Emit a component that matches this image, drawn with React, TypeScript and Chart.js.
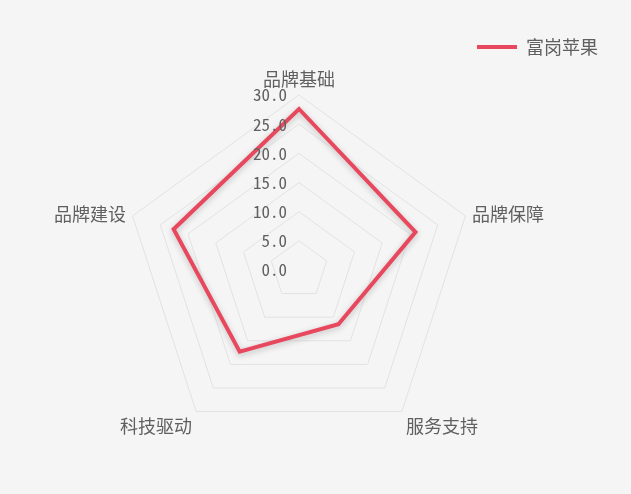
import { useEffect, useRef } from 'react';
import { Chart, registerables } from 'chart.js';

Chart.register(...registerables);

const categories = ['品牌基础', '品牌保障', '服务支持', '科技驱动', '品牌建设'];
const seriesName = '富岗苹果';
const seriesValues = [27.6, 21, 11.5, 17.3, 22.6];
const scaleMin = 0;
const scaleMax = 30;
const scaleStep = 5;

const CJK = '"Noto Sans CJK SC", "Noto Sans", sans-serif';
const MONO = '"Noto Sans Mono CJK SC", "Noto Sans CJK SC", monospace';
const TEXT = '#606060';
const LINE = '#e8485d';

const shadowPlugin = {
  id: 'lineShadow',
  beforeDatasetDraw(chart: any) {
    const ctx = chart.ctx;
    ctx.save();
    ctx.shadowColor = 'rgba(0,0,0,0.22)';
    ctx.shadowBlur = 6;
    ctx.shadowOffsetY = 2;
  },
  afterDatasetDraw(chart: any) {
    chart.ctx.restore();
  },
};

const labelPlugin = {
  id: 'radarLabels',
  afterDraw(chart: any) {
    const scale = chart.scales.r;
    const ctx = chart.ctx;
    ctx.save();
    ctx.fillStyle = TEXT;
    ctx.font = `17px ${MONO}`;
    ctx.textAlign = 'right';
    ctx.textBaseline = 'middle';
    scale.ticks.forEach((t: any) => {
      const d = scale.getDistanceFromCenterForValue(t.value);
      ctx.fillText(Number(t.value).toFixed(1), scale.xCenter - 12, scale.yCenter - d);
    });
    ctx.font = `18px ${CJK}`;
    (chart.data.labels as string[]).forEach((lab, i) => {
      const p = scale.getPointPosition(i, scale.drawingArea + 7);
      const a = scale.getIndexAngle(i) - Math.PI / 2;
      const c = Math.cos(a);
      const s = Math.sin(a);
      ctx.textAlign = Math.abs(c) < 0.01 ? 'center' : c > 0 ? 'left' : 'right';
      let y = p.y;
      if (s < -0.9) y -= 9;
      else if (s > 0.5) y += 9;
      ctx.fillText(lab, p.x, y);
    });
    ctx.restore();
  },
};

export default function App() {
  const ref = useRef<HTMLCanvasElement>(null);

  useEffect(() => {
    if (!ref.current) return;
    const chart = new Chart(ref.current, {
      type: 'radar',
      data: {
        labels: categories,
        datasets: [
          {
            label: seriesName,
            data: seriesValues,
            borderColor: LINE,
            backgroundColor: 'transparent',
            borderWidth: 4,
            borderCapStyle: 'round',
            fill: false,
            pointRadius: 0,
            pointHoverRadius: 0,
          } as any,
        ],
      },
      options: {
        responsive: true,
        maintainAspectRatio: false,
        animation: false,
        layout: { padding: { left: 0, right: 21, top: 26, bottom: 20 } },
        plugins: {
          tooltip: { enabled: false },
          legend: {
            position: 'top',
            align: 'end',
            labels: {
              usePointStyle: true,
              pointStyle: 'line',
              pointStyleWidth: 40,
              padding: 12,
              color: TEXT,
              font: { size: 18, family: CJK },
            },
          },
        },
        scales: {
          r: {
            min: scaleMin,
            max: scaleMax,
            ticks: {
              stepSize: scaleStep,
              display: true,
              color: 'transparent',
              showLabelBackdrop: true,
              backdropColor: 'transparent',
              font: { size: 10, lineHeight: 1.2 },
              backdropPadding: 24,
            },
            grid: { color: '#e2e2e2', lineWidth: 1 },
            angleLines: { display: false },
            pointLabels: { display: false },
          },
        },
      } as any,
      plugins: [shadowPlugin, labelPlugin],
    });
    return () => chart.destroy();
  }, []);

  return (
    <div
      style={{
        position: 'fixed',
        left: -12,
        top: 0,
        width: 643,
        height: 494,
        background: '#f5f5f5',
      }}
    >
      <canvas ref={ref} style={{ display: 'block' }} />
    </div>
  );
}
